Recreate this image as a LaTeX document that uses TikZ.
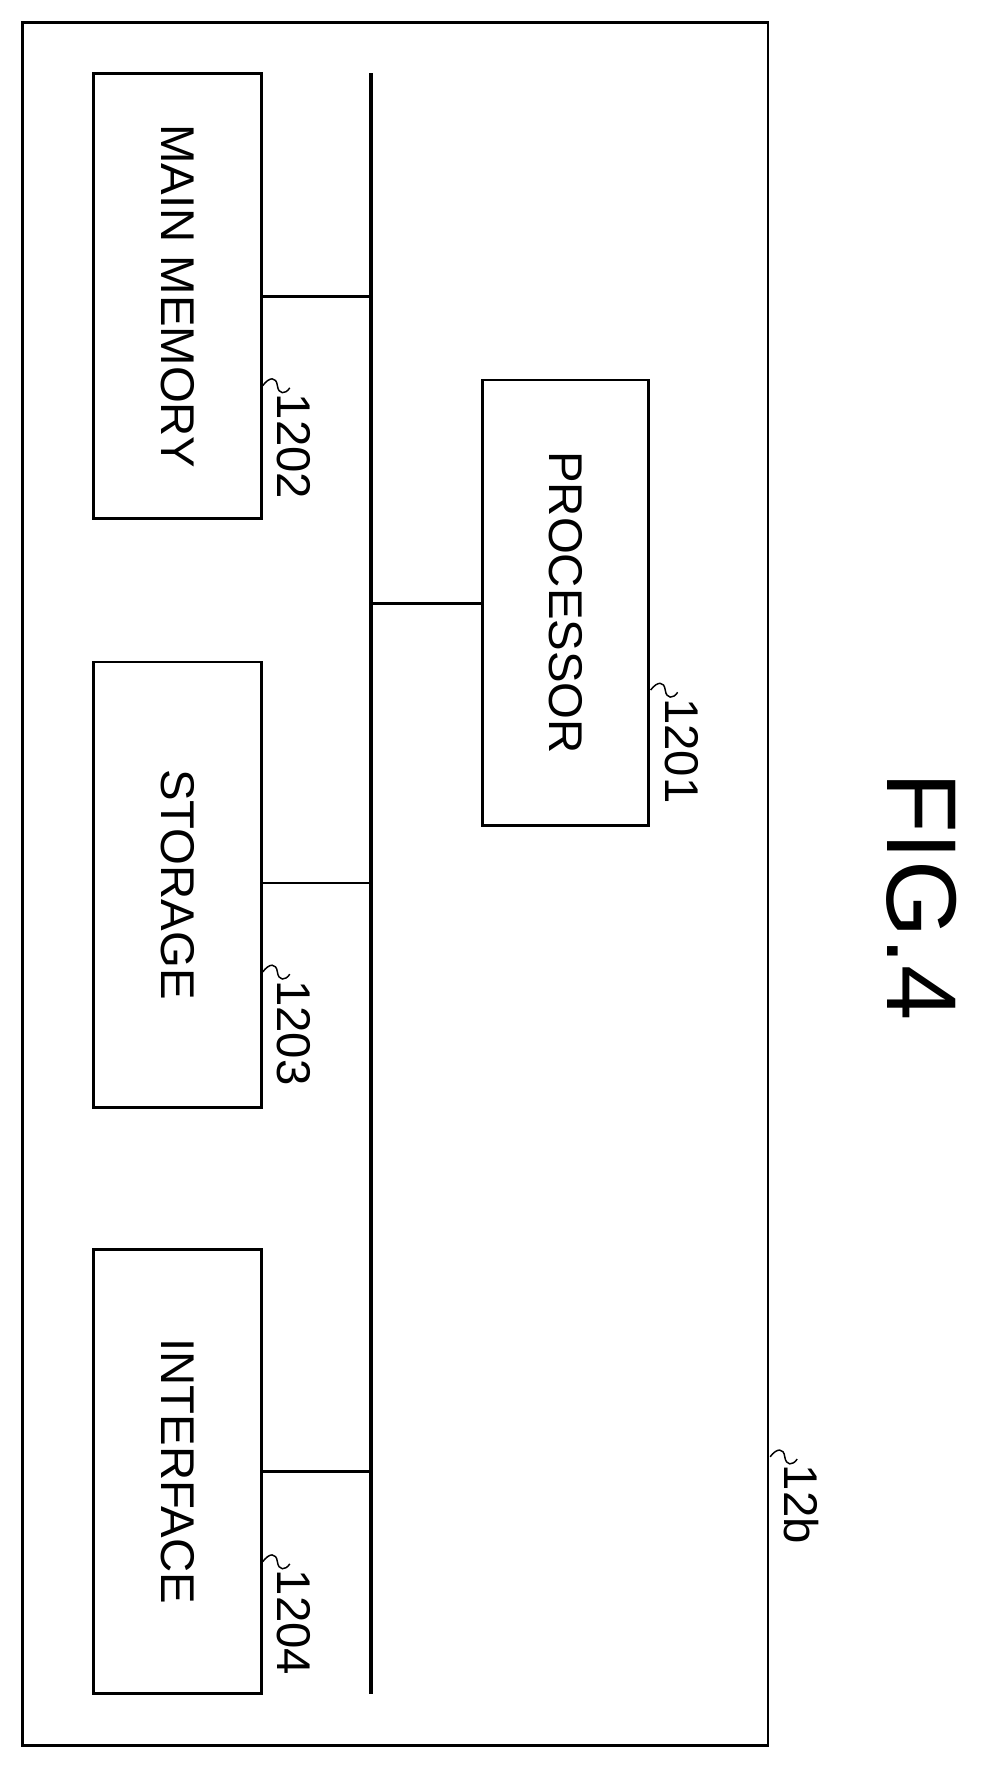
\documentclass[tikz,border=0pt]{standalone}
\usepackage{fontspec}
\setmainfont{Liberation Sans}
\begin{document}
\begin{tikzpicture}[x=1pt,y=-1pt,
  box/.style={draw,line width=2.4pt},
  conn/.style={line width=2.4pt},
  txt/.style={rotate=-90,font=\fontsize{42}{42}\selectfont,inner sep=0pt},
  lab/.style={rotate=-90,anchor=west,font=\fontsize{42}{42}\selectfont,inner sep=0pt},
  sq/.style={line width=1.3pt}]
\useasboundingbox (0,0) rectangle (870,1568);
\draw[box] (20,20) rectangle (681,1548);
\coordinate (bt) at (329,65); \coordinate (bb) at (329,1502);
\draw[line width=3.2pt] (bt) -- (bb);
\node[box,minimum width=149pt,minimum height=395pt,inner sep=0pt] (mm) at (157.5,262.5) {};
\node[box,minimum width=147pt,minimum height=395pt,inner sep=0pt] (pr) at (501.5,534.5) {};
\node[box,minimum width=149pt,minimum height=395pt,inner sep=0pt] (st) at (157.5,784.5) {};
\node[box,minimum width=149pt,minimum height=394pt,inner sep=0pt] (if) at (157.5,1305) {};
\node[txt] at (mm.center) {MAIN MEMORY};
\node[txt] at (pr.center) {PROCESSOR};
\node[txt] at (st.center) {STORAGE};
\node[txt] at (if.center) {INTERFACE};
\coordinate (b1) at (329,263); \coordinate (b2) at (329,535);
\coordinate (b3) at (329,783); \coordinate (b4) at (329,1305);
\draw[conn] (mm.east |- b1) -- (b1);
\draw[conn] (b2) -- (pr.west |- b2);
\draw[conn] (st.east |- b3) -- (b3);
\draw[conn] (if.east |- b4) -- (b4);
\foreach \x/\y/\t/\n in {233/342/1202/l2, 577/612/1201/l1, 233/862/1203/l3, 233/1385/1204/l4, 683/1292/12b/lb}{
  \draw[sq] (\x,\y) .. controls (\x+6,\y-8) and (\x+12,\y-8) .. (\x+13,\y) .. controls (\x+14,\y+8) and (\x+20,\y+8) .. (\x+24,\y+2);
  \node[lab] (\n) at (\x+28,\y+7) {\t};
}
\node[rotate=-90,font=\fontsize{88}{88}\selectfont,inner sep=0pt] (fig) at (817,795) {FIG.4};
\end{tikzpicture}
\end{document}
